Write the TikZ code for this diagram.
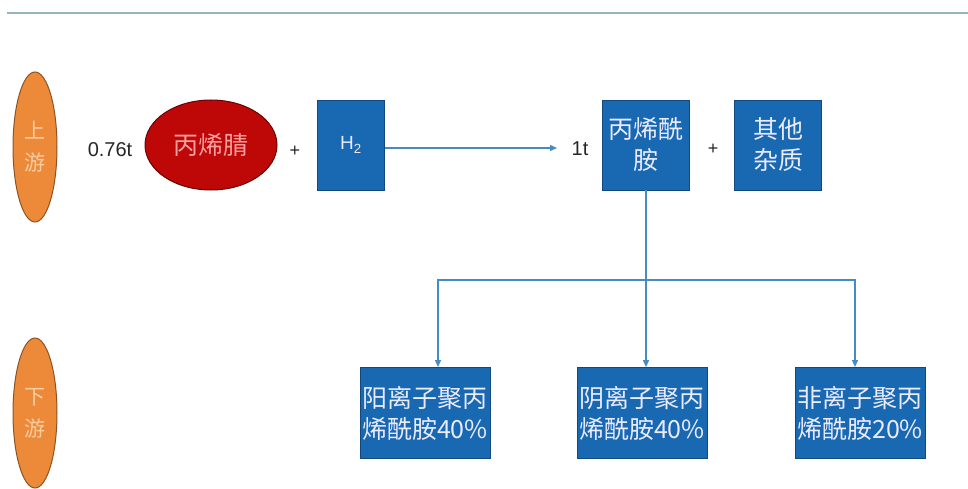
\documentclass[tikz,border=0pt]{standalone}
\usepackage{fontspec}
\setmainfont{Liberation Sans}
\newfontfamily\cjk{Noto Sans CJK SC}
\usetikzlibrary{shapes.geometric,arrows.meta}
\definecolor{boxblue}{RGB}{24,104,178}
\definecolor{linecol}{RGB}{70,140,195}
\definecolor{topline}{RGB}{150,180,192}
\definecolor{orng}{RGB}{236,138,58}
\definecolor{orngtxt}{RGB}{250,205,160}
\definecolor{dred}{RGB}{190,8,8}
\definecolor{redtxt}{RGB}{250,160,160}
\tikzset{
  bluebox/.style={draw=boxblue!70!black, line width=0.8pt, fill=boxblue, text=white!92!blue,
    inner sep=0pt, align=center, font=\cjk\fontsize{25}{31}\selectfont},
  sidelabel/.style={ellipse, draw=orng!60!black, line width=1pt, fill=orng, text=orngtxt,
    minimum width=44pt, minimum height=150pt, inner sep=0pt, align=center,
    font=\cjk\fontsize{21}{32}\selectfont},
  conn/.style={draw=linecol, line width=1.3pt},
  arr/.style={conn, -{Triangle[length=7pt,width=6pt]}},
  plain/.style={font=\fontsize{20}{24}\selectfont, text=black!85},
}
\begin{document}
\begin{tikzpicture}[x=1pt,y=-1pt]
\useasboundingbox (0,0) rectangle (968,489);
\fill[white] (0,0) rectangle (968,489);
\draw[topline, line width=2.5pt] (7,13) -- (968,13);
\node[sidelabel] (up) at (35,147) {上\\游};
\node[sidelabel] (down) at (35,413) {下\\游};
\node[plain] (q1) at (110,150) {0.76t};
\node[ellipse, draw=dred!55!black, line width=1pt, fill=dred, text=redtxt, minimum width=132pt,
  minimum height=90pt, inner sep=0pt, font=\cjk\fontsize{25}{30}\selectfont] (acn) at (211,145) {丙烯腈};
\node[plain, font=\fontsize{18}{20}\selectfont] (p1) at (295,151) {+};
\node[bluebox, minimum width=67pt, minimum height=90pt, font=\fontsize{19}{24}\selectfont] (h2) at (351,145) {H\textsubscript{2}};
\node[plain] (q2) at (580,149) {1t};
\node[bluebox, minimum width=87pt, minimum height=90pt] (am) at (646,145) {丙烯酰\\胺};
\node[plain, font=\fontsize{18}{20}\selectfont] (p2) at (713,149) {+};
\node[bluebox, minimum width=87pt, minimum height=90pt] (imp) at (778,145) {其他\\杂质};
\node[bluebox, minimum width=130pt, minimum height=91pt] (b1) at (425,413) {阳离子聚丙\\烯酰胺40\%};
\node[bluebox, minimum width=130pt, minimum height=91pt] (b2) at (642,413) {阴离子聚丙\\烯酰胺40\%};
\node[bluebox, minimum width=130pt, minimum height=91pt] (b3) at (860,413) {非离子聚丙\\烯酰胺20\%};
\coordinate (j) at (am.south |- 0,280);
\draw[arr] (h2.east |- 0,148) -- (557,148) coordinate (ah);
\draw[conn] (am.south) -- (j);
\draw[arr] (j) -- (am.south |- b2.north);
\draw[arr] (j) -| (438,367) coordinate (d1);
\draw[arr] (j) -| (855,367) coordinate (d3);
\end{tikzpicture}
\end{document}
